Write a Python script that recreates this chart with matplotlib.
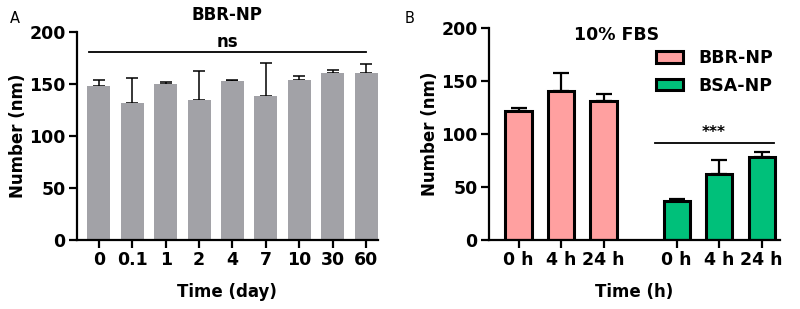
import numpy as np
import matplotlib
matplotlib.use("Agg")
import matplotlib.pyplot as plt

plt.rcParams["font.family"] = "DejaVu Sans"
plt.rcParams["font.weight"] = "bold"

# Panel A data
days = ["0", "0.1", "1", "2", "4", "7", "10", "30", "60"]
a_mean = [148, 132, 150, 135, 153, 139, 154, 161, 161]
a_top = [154, 156, 152, 163, 154, 170, 158, 164, 169]

# Panel B data
hours = ["0 h", "4 h", "24 h"]
bbr_mean = [122, 141, 131]
bbr_top = [125, 158, 138]
bsa_mean = [37, 62, 78.5]
bsa_top = [38.5, 75.5, 83]

fig = plt.figure(figsize=(8, 3.09), dpi=100)

def style(ax):
    for s in ["top", "right"]:
        ax.spines[s].set_visible(False)
    for s in ["left", "bottom"]:
        ax.spines[s].set_linewidth(1.6)
    ax.tick_params(width=1.6, length=6, labelsize=12.5, pad=2)
    ax.set_ylim(0, 200)
    ax.set_yticks([0, 50, 100, 150, 200])
    for t in ax.get_xticklabels() + ax.get_yticklabels():
        t.set_fontweight("bold")

# ---- A
ax = fig.add_axes([0.096, 0.223, 0.376, 0.673])
x = np.arange(len(days))
err = np.array(a_top) - np.array(a_mean)
ax.bar(x, a_mean, width=0.69, color="#a2a2a7", zorder=2)
ax.errorbar(x, a_mean, yerr=[np.zeros(len(x)), err], fmt="none", ecolor="black",
            elinewidth=1.1, capsize=4, capthick=1.1, zorder=1)
ax.set_xlim(-0.66, 8.345)
ax.set_xticks(x)
ax.set_xticklabels(days)
style(ax)
ax.plot([-0.3, 8], [180.5, 180.5], color="black", lw=1.3, clip_on=False)
ax.text(3.85, 182, "ns", ha="center", va="bottom", fontsize=12, fontweight="bold")
ax.set_title("BBR-NP", fontsize=12, fontweight="bold", pad=9)
ax.set_ylabel("Number (nm)", fontsize=12, fontweight="bold", labelpad=2)
ax.set_xlabel("Time (day)", fontsize=12, fontweight="bold", labelpad=10)
fig.text(0.012, 0.965, "A", fontsize=10.5, fontweight="normal", va="top")

# ---- B
bx = fig.add_axes([0.611, 0.223, 0.364, 0.685])
xb1 = np.arange(3)
xb2 = np.arange(3) + 3.72
ax_bars = dict(width=0.62, edgecolor="black", linewidth=2.2, zorder=2)
bx.bar(xb1, bbr_mean, color="#ffa0a0", label="BBR-NP", **ax_bars)
bx.bar(xb2, bsa_mean, color="#00c07a", label="BSA-NP", **ax_bars)
bx.errorbar(xb1, bbr_mean, yerr=[np.zeros(3), np.array(bbr_top) - np.array(bbr_mean)],
            fmt="none", ecolor="black", elinewidth=1.6, capsize=6, capthick=1.6, zorder=1)
bx.errorbar(xb2, bsa_mean, yerr=[np.zeros(3), np.array(bsa_top) - np.array(bsa_mean)],
            fmt="none", ecolor="black", elinewidth=1.6, capsize=6, capthick=1.6, zorder=1)
bx.set_xlim(-0.7, 6.15)
bx.set_xticks(np.concatenate([xb1, xb2]))
bx.set_xticklabels(hours + hours)
style(bx)
bx.plot([3.2, 6.0], [92, 92], color="black", lw=1.3)
bx.text(4.6, 95, "***", ha="center", va="bottom", fontsize=11, fontweight="bold")
bx.text(2.3, 194, "10% FBS", ha="center", va="center", fontsize=12.5, fontweight="bold")
bx.set_ylabel("Number (nm)", fontsize=12, fontweight="bold", labelpad=2)
bx.set_xlabel("Time (h)", fontsize=12, fontweight="bold", labelpad=10)
leg = bx.legend(loc="upper left", bbox_to_anchor=(0.55, 0.935), frameon=False,
                fontsize=12.5, handlelength=1.55, handleheight=0.65, handletextpad=0.9,
                labelspacing=0.55, borderaxespad=0)
for t in leg.get_texts():
    t.set_fontweight("bold")
fig.text(0.506, 0.965, "B", fontsize=10.5, fontweight="normal", va="top")

fig.savefig("out.png", dpi=100)
